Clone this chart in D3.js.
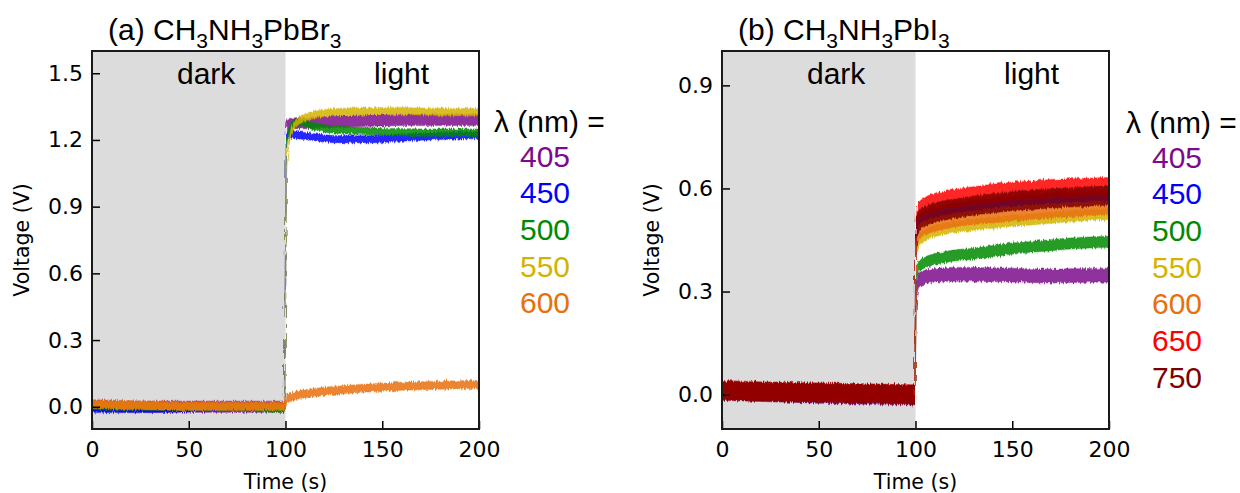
<!DOCTYPE html>
<html>
<head>
<meta charset="utf-8">
<script src="https://cdn.jsdelivr.net/npm/d3@7"></script>
<style>
  body { margin: 0; background: #fff; }
  .tick text { font-family: "DejaVu Sans", sans-serif; font-size: 22px; fill: #000; }
  .tick line { stroke: #000; stroke-width: 1.5; }
</style>
</head>
<body>
<div id="viz"></div>
<script>
// time points shared by every series (s)
var times = [0, 25, 50, 75, 99.5, 100.5, 102, 105, 110, 115, 120, 130, 140, 150, 160, 170, 180, 190, 200];

// panel (a) CH3NH3PbBr3, voltage (V) read at each time point
var wavelengthsA = ["405", "450", "500", "550", "600"];
var a405 = [0.005, 0.0, 0.0, 0.0, 0.0, 1.25, 1.27, 1.275, 1.275, 1.278, 1.28, 1.283, 1.286, 1.288, 1.29, 1.29, 1.29, 1.29, 1.29];
var a450 = [-0.01, -0.01, -0.005, 0.0, 0.0, 1.22, 1.225, 1.222, 1.218, 1.212, 1.207, 1.203, 1.203, 1.205, 1.21, 1.215, 1.218, 1.22, 1.222];
var a500 = [0.005, 0.0, 0.0, 0.0, -0.01, 1.17, 1.24, 1.28, 1.275, 1.26, 1.252, 1.244, 1.24, 1.237, 1.235, 1.233, 1.233, 1.233, 1.233];
var a550 = [0.01, 0.005, 0.0, 0.0, 0.0, 1.05, 1.2, 1.27, 1.3, 1.313, 1.32, 1.326, 1.328, 1.33, 1.33, 1.328, 1.326, 1.325, 1.325];
var a600 = [0.012, 0.008, 0.005, 0.005, 0.005, 0.03, 0.04, 0.05, 0.058, 0.064, 0.07, 0.077, 0.083, 0.088, 0.092, 0.095, 0.097, 0.099, 0.1];
var spreadA = [0.025, 0.016, 0.016, 0.016, 0.018];

// panel (b) CH3NH3PbI3
var wavelengthsB = ["405", "450", "500", "550", "600", "650", "750"];
var b405 = [0.005, 0.0, -0.005, -0.008, -0.01, 0.3, 0.335, 0.342, 0.347, 0.349, 0.35, 0.35, 0.349, 0.348, 0.346, 0.345, 0.346, 0.347, 0.348];
var b450 = [0.01, 0.005, 0.0, 0.0, -0.005, 0.48, 0.51, 0.52, 0.53, 0.536, 0.541, 0.55, 0.557, 0.563, 0.567, 0.571, 0.574, 0.577, 0.579];
var b500 = [0.012, 0.008, 0.005, 0.002, 0.0, 0.34, 0.375, 0.385, 0.395, 0.4, 0.405, 0.41, 0.418, 0.425, 0.43, 0.435, 0.44, 0.443, 0.445];
var b550 = [0.02, 0.015, 0.012, 0.008, 0.005, 0.41, 0.447, 0.465, 0.476, 0.482, 0.487, 0.494, 0.5, 0.506, 0.51, 0.515, 0.519, 0.523, 0.526];
var b600 = [0.015, 0.01, 0.008, 0.005, 0.002, 0.44, 0.47, 0.485, 0.495, 0.502, 0.508, 0.515, 0.52, 0.525, 0.53, 0.535, 0.538, 0.541, 0.544];
var b650 = [0.015, 0.01, 0.008, 0.005, 0.003, 0.5, 0.535, 0.548, 0.56, 0.566, 0.571, 0.579, 0.586, 0.592, 0.596, 0.6, 0.602, 0.604, 0.606];
var b750 = [0.012, 0.008, 0.005, 0.003, 0.0, 0.48, 0.51, 0.52, 0.53, 0.536, 0.541, 0.55, 0.557, 0.563, 0.567, 0.571, 0.574, 0.577, 0.579];
var spreadB = [0.02, 0.015, 0.016, 0.016, 0.02, 0.026, 0.028];

var xTicks = [0, 50, 100, 150, 200];
var yTicksA = [0.0, 0.3, 0.6, 0.9, 1.2, 1.5];
var yTicksB = [0.0, 0.3, 0.6, 0.9];

var colors = {"405": "#7d0a8c", "450": "#0000ff", "500": "#008a00", "550": "#d4b300",
              "600": "#e8700c", "650": "#ff0000", "750": "#800000"};

var svg = d3.select("#viz").append("svg")
  .attr("width", 1240)
  .attr("height", 493);

// rough edge filter so the bands look like dense scatter
var filt = svg.append("defs").append("filter").attr("id", "rough")
  .attr("x", "-5%").attr("y", "-20%").attr("width", "110%").attr("height", "140%");
filt.append("feTurbulence").attr("type", "fractalNoise")
  .attr("baseFrequency", "0.9 0.08").attr("numOctaves", 2).attr("seed", 3).attr("result", "noise");
filt.append("feDisplacementMap").attr("in", "SourceGraphic").attr("in2", "noise")
  .attr("scale", 5).attr("xChannelSelector", "R").attr("yChannelSelector", "G");

var font = "'Liberation Sans', Arial, sans-serif";

function drawPanel(cfg) {
  var x = d3.scaleLinear().domain([0, 200]).range([cfg.left, cfg.left + 387]);
  var y = d3.scaleLinear().domain(cfg.yDomain).range([429, 51]);
  var g = svg.append("g");

  // shaded dark period
  g.append("rect")
    .attr("x", x(0)).attr("y", y(cfg.yDomain[1]))
    .attr("width", x(100) - x(0)).attr("height", y(cfg.yDomain[0]) - y(cfg.yDomain[1]))
    .attr("fill", "#dcdcdc");

  // data bands
  var clipId = "clip" + cfg.left;
  g.append("clipPath").attr("id", clipId).append("rect")
    .attr("x", x(0)).attr("y", 51).attr("width", 387).attr("height", 378);
  var dataG = g.append("g").attr("clip-path", "url(#" + clipId + ")")
    .append("g").attr("filter", "url(#rough)");
  cfg.series.forEach(function(s, i) {
    var rows = times.map(function(t, j) { return {t: t, v: s.values[j]}; });
    var area = d3.area()
      .x(function(d) { return x(d.t); })
      .y0(function(d) { return y(d.v - s.spread); })
      .y1(function(d) { return y(d.v + s.spread); })
      .curve(d3.curveMonotoneX);
    dataG.append("path")
      .datum(rows)
      .attr("fill", colors[s.name])
      .attr("fill-opacity", 0.85)
      .attr("stroke", colors[s.name])
      .attr("stroke-opacity", 0.3)
      .attr("stroke-width", 1.5)
      .attr("d", area);
  });

  // axes, ticks pointing inward
  g.append("g")
    .attr("transform", "translate(0,429)")
    .call(d3.axisBottom(x).tickValues(xTicks).tickSize(-8).tickPadding(12).tickFormat(d3.format("d")))
    .call(function(a) { a.select(".domain").remove(); });
  g.append("g")
    .attr("transform", "translate(" + cfg.left + ",0)")
    .call(d3.axisLeft(y).tickValues(cfg.yTicks).tickSize(-8).tickPadding(9).tickFormat(d3.format(".1f")))
    .call(function(a) { a.select(".domain").remove(); });

  // frame
  g.append("rect")
    .attr("x", x(0)).attr("y", 51)
    .attr("width", 387).attr("height", 378)
    .attr("fill", "none").attr("stroke", "#1a1a1a").attr("stroke-width", 2);

  // dark / light labels
  g.append("text").attr("x", x(59)).attr("y", 73).attr("dy", "0.35em")
    .attr("text-anchor", "middle").style("font", "30px " + font)
    .text("dark");
  g.append("text").attr("x", x(160)).attr("y", 73).attr("dy", "0.35em")
    .attr("text-anchor", "middle").style("font", "30px " + font)
    .text("light");

  // title with subscripts
  var title = g.append("text").attr("x", cfg.left + 16).attr("y", 40)
    .style("font", "30px " + font);
  cfg.title.forEach(function(p) {
    if (p.sub) {
      title.append("tspan").attr("dy", 8).style("font-size", "21px").text(p.text);
    } else {
      title.append("tspan").attr("dy", p.after ? -8 : 0).text(p.text);
    }
  });

  // axis labels
  g.append("text")
    .attr("transform", "translate(" + (cfg.left - 70) + ",240) rotate(-90)")
    .attr("text-anchor", "middle").attr("dy", "0.35em")
    .style("font", "20.5px 'DejaVu Sans', sans-serif")
    .text("Voltage (V)");
  g.append("text")
    .attr("x", x(100)).attr("y", 482).attr("dy", "0.35em")
    .attr("text-anchor", "middle")
    .style("font", "20.5px 'DejaVu Sans', sans-serif")
    .text("Time (s)");

  // wavelength legend
  g.append("text")
    .attr("x", cfg.legendX).attr("y", cfg.legendY).attr("dy", "0.35em")
    .style("font", "30px " + font)
    .text("\u03bb (nm) =");
  cfg.series.forEach(function(s, i) {
    g.append("text")
      .attr("x", cfg.legendX + 26).attr("y", cfg.legendY + 35 + i * 36.7).attr("dy", "0.35em")
      .style("font", "30px " + font)
      .attr("fill", colors[s.name])
      .text(s.name);
  });
}

drawPanel({
  left: 92,
  yDomain: [-0.1, 1.6],
  yTicks: yTicksA,
  legendX: 494,
  legendY: 121,
  title: [{text: "(a) CH"}, {text: "3", sub: true}, {text: "NH", after: true}, {text: "3", sub: true},
          {text: "PbBr", after: true}, {text: "3", sub: true}],
  series: wavelengthsA.map(function(w, i) {
    return {name: w, values: [a405, a450, a500, a550, a600][i], spread: spreadA[i]};
  })
});

drawPanel({
  left: 722,
  yDomain: [-0.1, 1.0],
  yTicks: yTicksB,
  legendX: 1126,
  legendY: 122,
  title: [{text: "(b) CH"}, {text: "3", sub: true}, {text: "NH", after: true}, {text: "3", sub: true},
          {text: "PbI", after: true}, {text: "3", sub: true}],
  series: wavelengthsB.map(function(w, i) {
    return {name: w, values: [b405, b450, b500, b550, b600, b650, b750][i], spread: spreadB[i]};
  })
});
</script>
</body>
</html>
